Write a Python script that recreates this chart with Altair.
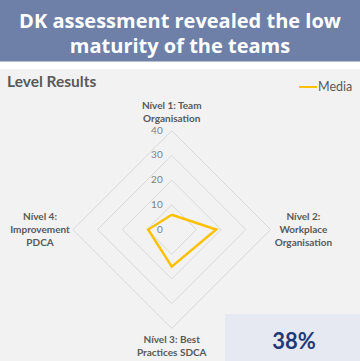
import altair as alt
import pandas as pd

# ---- data ----
categories = [
    "Nível 1: Team\nOrganisation",
    "Nível 2:\nWorkplace\nOrganisation",
    "Nível 3: Best\nPractices SDCA",
    "Nível 4:\nImprovement\nPDCA",
]
media = [6, 18, 15, 9.5]
rings = [10, 20, 30, 40]
tick_values = [0, 10, 20, 30, 40]
series_name = "Media"
title_text = "DK assessment revealed the low\nmaturity of the teams"
subtitle_text = "Level Results"
kpi_text = "38%"

n = len(categories)

poly_df = pd.DataFrame(
    [{"order": i, "idx": i % n, "v": media[i % n], "series": series_name} for i in range(n + 1)]
)
ring_df = pd.DataFrame(
    [{"ring": r, "order": i, "idx": i % n, "v": r} for r in rings for i in range(n + 1)]
)
label_rows = []
for i, c in enumerate(categories):
    parts = c.split("\n")
    for k, p in enumerate(parts):
        label_rows.append({"idx": i, "k": k, "nl": len(parts), "line": p})
label_df = pd.DataFrame(label_rows)
tick_df = pd.DataFrame({"v": tick_values, "t": [str(t) for t in tick_values]})
one = pd.DataFrame({"a": [0]})

xs = alt.Scale(domain=[-69.5, 76.2], nice=False, zero=False)
ys = alt.Scale(domain=[-53.2, 92.9], nice=False, zero=False)

ang = "datum.idx * PI / 2"

banner = alt.Chart(one).mark_rect(color="#6E80A8").encode(
    x=alt.value(0), x2=alt.value(360), y=alt.value(0), y2=alt.value(61.5)
)
panel = alt.Chart(one).mark_rect(color="#F2F2F2").encode(
    x=alt.value(0), x2=alt.value(360), y=alt.value(69), y2=alt.value(361)
)
kpi_box = alt.Chart(one).mark_rect(color="#E6E9F1").encode(
    x=alt.value(225), x2=alt.value(360), y=alt.value(314), y2=alt.value(361)
)
title = alt.Chart(pd.DataFrame({"t": [title_text]})).mark_text(
    font="Open Sans", fontWeight="bold", fontSize=20, color="white",
    lineBreak="\n", lineHeight=25, align="center", baseline="middle"
).encode(x=alt.value(180), y=alt.value(22), text="t:N")

subtitle = alt.Chart(pd.DataFrame({"t": [subtitle_text]})).mark_text(
    font="Lato", fontWeight="bold", fontSize=15.5, color="#595959",
    align="left", baseline="middle"
).encode(x=alt.value(7), y=alt.value(82), text="t:N")

legend_line = alt.Chart(one).mark_rule(color="#FFC000", strokeWidth=2).encode(
    x=alt.value(299), x2=alt.value(317), y=alt.value(87)
)
legend_text = alt.Chart(pd.DataFrame({"t": [series_name]})).mark_text(
    font="Lato", fontSize=12.5, color="#595959", align="left", baseline="middle"
).encode(x=alt.value(318), y=alt.value(87), text="t:N")

grid = alt.Chart(ring_df).transform_calculate(
    px=f"datum.v * sin({ang})", py=f"datum.v * cos({ang})"
).mark_line(color="#D9D9D9", strokeWidth=1).encode(
    x=alt.X("px:Q", scale=xs, axis=None),
    y=alt.Y("py:Q", scale=ys, axis=None),
    detail="ring:N",
    order="order:Q",
)

ticks = alt.Chart(tick_df).mark_text(
    font="Lato", fontSize=10, color="#808080", align="right", baseline="middle", dx=-9
).encode(
    x=alt.X("zero:Q", scale=xs, axis=None),
    y=alt.Y("v:Q", scale=ys, axis=None),
    text="t:N",
).transform_calculate(zero="0")

labels = alt.Chart(label_df).transform_calculate(
    lx=f"sin({ang}) * 53.3",
    ly=f"cos({ang}) * 47.2 + ((datum.nl - 1) / 2 - datum.k) * 5.25",
).mark_text(
    font="Lato", fontWeight="bold", fontSize=10, color="#595959",
    align="center", baseline="middle"
).encode(
    x=alt.X("lx:Q", scale=xs, axis=None),
    y=alt.Y("ly:Q", scale=ys, axis=None),
    text="line:N",
)

line = alt.Chart(poly_df).transform_calculate(
    px=f"datum.v * sin({ang})", py=f"datum.v * cos({ang})"
).mark_line(color="#FFC000", strokeWidth=2.5, strokeJoin="miter").encode(
    x=alt.X("px:Q", scale=xs, axis=None),
    y=alt.Y("py:Q", scale=ys, axis=None),
    order="order:Q",
)

kpi = alt.Chart(pd.DataFrame({"t": [kpi_text]})).mark_text(
    font="Lato", fontWeight="bold", fontSize=22, color="#1F3A78",
    align="center", baseline="middle"
).encode(x=alt.value(294), y=alt.value(342), text="t:N")

chart = alt.layer(
    banner, panel, kpi_box, title, subtitle, legend_line, legend_text,
    grid, ticks, labels, line, kpi
).properties(
    width=360, height=361, padding=0, autosize=alt.AutoSizeParams(type="none"),
    background="white"
).configure_view(stroke=None)

chart.save("out.html", embed_options={"renderer": "svg", "actions": False})
